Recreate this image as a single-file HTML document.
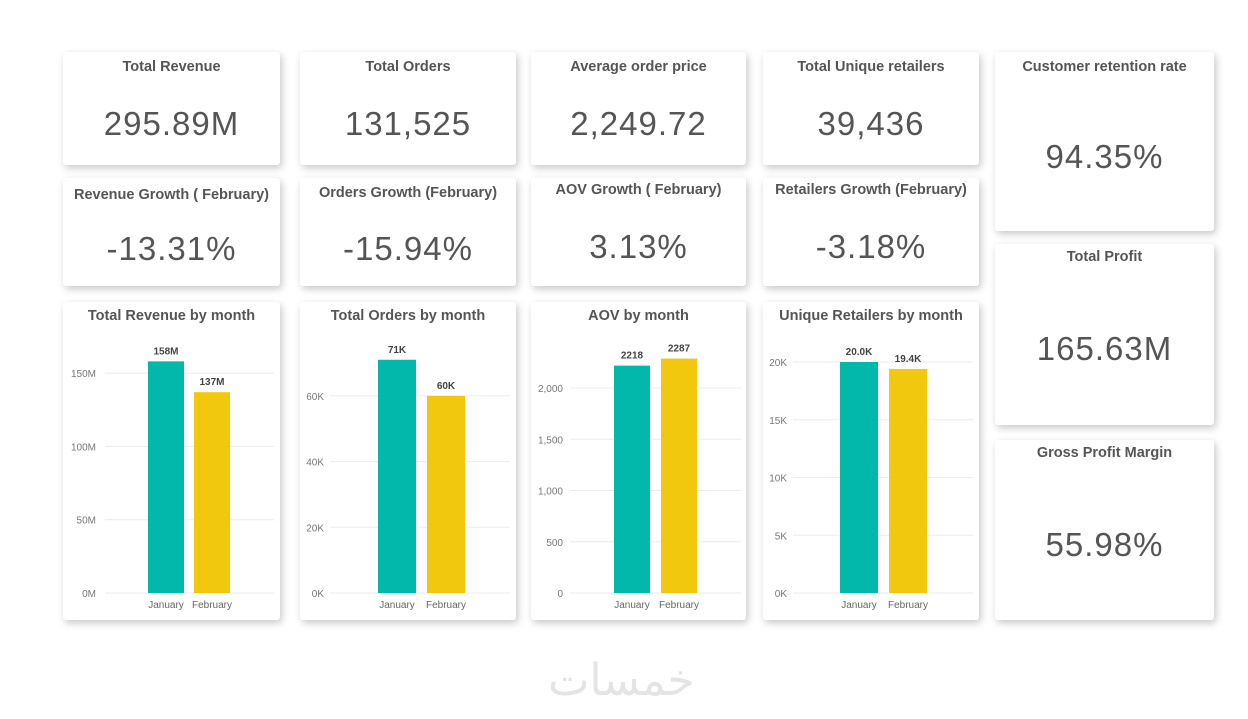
<!DOCTYPE html>
<html><head><meta charset="utf-8"><style>
body{margin:0;width:1248px;height:719px;background:#fff;position:relative;overflow:hidden;font-family:"Liberation Sans",sans-serif}
.card{position:absolute;background:#fff;border-radius:3px;box-shadow:2px 3px 8px rgba(0,0,0,0.22)}
.t{position:absolute;left:0;right:0;text-align:center;font-weight:bold;font-size:14.5px;color:#555}
.v{position:absolute;left:0;right:0;text-align:center;font-size:33px;color:#555;letter-spacing:1px}
svg{position:absolute;left:0;top:0}
.wm{position:absolute;left:548px;top:655px;font-size:44px;color:#e4e4e4;font-family:"DejaVu Sans",sans-serif}
</style></head><body>
<div class="card" style="left:63px;top:52px;width:217px;height:113px"><div class="t" style="top:7px">Total Revenue</div><div class="v" style="top:53px">295.89M</div></div>
<div class="card" style="left:300px;top:52px;width:216px;height:113px"><div class="t" style="top:7px">Total Orders</div><div class="v" style="top:53px">131,525</div></div>
<div class="card" style="left:531px;top:52px;width:215px;height:113px"><div class="t" style="top:7px">Average order price</div><div class="v" style="top:53px">2,249.72</div></div>
<div class="card" style="left:763px;top:52px;width:216px;height:113px"><div class="t" style="top:7px">Total Unique retailers</div><div class="v" style="top:53px">39,436</div></div>
<div class="card" style="left:995px;top:52px;width:219px;height:179px"><div class="t" style="top:7px">Customer retention rate</div><div class="v" style="top:86px">94.35%</div></div>
<div class="card" style="left:63px;top:178px;width:217px;height:108px"><div class="t" style="top:9px">Revenue Growth ( February)</div><div class="v" style="top:52px">-13.31%</div></div>
<div class="card" style="left:300px;top:178px;width:216px;height:108px"><div class="t" style="top:7px">Orders Growth (February)</div><div class="v" style="top:52px">-15.94%</div></div>
<div class="card" style="left:531px;top:178px;width:215px;height:108px"><div class="t" style="top:4px">AOV Growth ( February)</div><div class="v" style="top:50px">3.13%</div></div>
<div class="card" style="left:763px;top:178px;width:216px;height:108px"><div class="t" style="top:4px">Retailers Growth (February)</div><div class="v" style="top:50px">-3.18%</div></div>
<div class="card" style="left:995px;top:244px;width:219px;height:181px"><div class="t" style="top:5px">Total Profit</div><div class="v" style="top:86px">165.63M</div></div>
<div class="card" style="left:995px;top:440px;width:219px;height:180px"><div class="t" style="top:5px">Gross Profit Margin</div><div class="v" style="top:86px">55.98%</div></div>
<div class="card" style="left:63px;top:302px;width:217px;height:318px"><div class="t" style="top:6px">Total Revenue by month</div></div>
<div class="card" style="left:300px;top:302px;width:216px;height:318px"><div class="t" style="top:6px">Total Orders by month</div></div>
<div class="card" style="left:531px;top:302px;width:215px;height:318px"><div class="t" style="top:6px">AOV by month</div></div>
<div class="card" style="left:763px;top:302px;width:216px;height:318px"><div class="t" style="top:6px">Unique Retailers by month</div></div>
<svg id="charts" width="1248" height="719"></svg>
<div class="wm">خمسات</div>
<script>
const months=["January","February"];
const revenueValues=[158,137];
const revenueLabels=["158M","137M"];
const revenueTicks=[0,50,100,150];
const ordersValues=[71,60];
const ordersLabels=["71K","60K"];
const ordersTicks=[0,20,40,60];
const aovValues=[2218,2287];
const aovLabels=["2218","2287"];
const aovTicks=[0,500,1000,1500,2000];
const retailersValues=[20.0,19.4];
const retailersLabels=["20.0K","19.4K"];
const retailersTicks=[0,5,10,15,20];
const NS="http://www.w3.org/2000/svg";
const svg=document.getElementById('charts');
function mk(t,a){const e=document.createElementNS(NS,t);for(const k in a)e.setAttribute(k,a[k]);svg.appendChild(e);return e;}
function chart(name,vals,labels,ticks,fmt,cfg){
  const y=v=>cfg.y0-(v-ticks[0])/(ticks[1]-ticks[0])*cfg.step;
  ticks.forEach(t=>{
    const g=mk('line',{x1:cfg.gx1,x2:cfg.gx2,y1:y(t),y2:y(t),stroke:'#ebebeb','stroke-width':1});
    
    const tx=mk('text',{x:cfg.lx,y:y(t)+4,'text-anchor':'end','font-size':10,fill:'#777','font-family':'Liberation Sans'});
    tx.textContent=fmt(t);
    
  });
  const cols=['#01b8aa','#f2c80f'];
  vals.forEach((v,i)=>{
    const bx=cfg.bx[i];
    const r=mk('rect',{x:bx,y:y(v),width:cfg.bw,height:cfg.y0-y(v),fill:cols[i]});
    
    const l=mk('text',{x:bx+cfg.bw/2,y:y(v)-7,'text-anchor':'middle','font-size':10,'font-weight':'bold',fill:'#444','font-family':'Liberation Sans'});
    l.textContent=labels[i];
    
    const m=mk('text',{x:bx+cfg.bw/2,y:cfg.y0+15,'text-anchor':'middle','font-size':10,fill:'#666','font-family':'Liberation Sans'});
    m.textContent=months[i];
    
  });
}
chart('revenue',revenueValues,revenueLabels,revenueTicks,t=>t+'M',{y0:593,step:73.3,gx1:105,gx2:274,lx:96,bx:[148,194],bw:36});
chart('orders',ordersValues,ordersLabels,ordersTicks,t=>t+'K',{y0:593,step:65.7,gx1:330,gx2:510,lx:324,bx:[378,427],bw:38});
chart('aov',aovValues,aovLabels,aovTicks,t=>t.toLocaleString('en-US'),{y0:593,step:51.25,gx1:570,gx2:741,lx:563,bx:[614,661],bw:36});
chart('retailers',retailersValues,retailersLabels,retailersTicks,t=>t+'K',{y0:593,step:57.75,gx1:793,gx2:973,lx:787,bx:[840,889],bw:38});
</script>
</body></html>
